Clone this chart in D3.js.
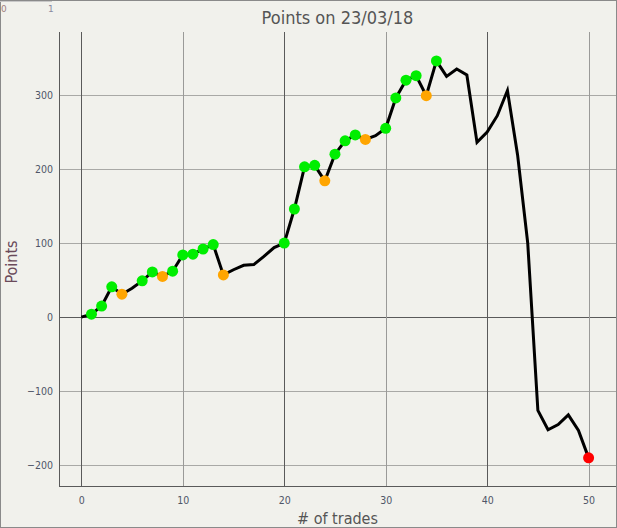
<!DOCTYPE html>
<html>
<head>
<meta charset="utf-8">
<script src="https://cdn.jsdelivr.net/npm/d3@7"></script>
<style>
  body { margin: 0; background: #fff; }
  .axis text { font-family: "DejaVu Sans Condensed", "DejaVu Sans", sans-serif; font-size: 10.5px; fill: #4f5668; }
  .axis path, .axis line { stroke: none; }
</style>
</head>
<body>
<div id="chart"></div>
<script>
// Trade number on x, cumulative points on y
const trades = d3.range(0, 51);
const points = [
  0, 4, 15, 41, 31, 39, 49, 61, 55, 62,
  84, 85, 92, 98, 57, 64, 70, 71, 82, 94,
  100, 146, 203, 205, 184, 220, 238, 246, 240, 245,
  255, 296, 320, 326, 299, 346, 325, 335, 327, 236,
  250, 272, 306, 219, 100, -126, -152, -145, -132, -153,
  -190
];
// marker kind per trade: g = win, o = loss, r = last, '' = no marker
const markers = [
  '', 'g', 'g', 'g', 'o', '', 'g', 'g', 'o', 'g',
  'g', 'g', 'g', 'g', 'o', '', '', '', '', '',
  'g', 'g', 'g', 'g', 'o', 'g', 'g', 'g', 'o', '',
  'g', 'g', 'g', 'g', 'o', 'g', '', '', '', '',
  '', '', '', '', '', '', '', '', '', '',
  'r'
];
const xTicks = [0, 10, 20, 30, 40, 50];
const yTicks = [-200, -100, 0, 100, 200, 300];
const markerColor = {g: '#00ee00', o: '#ffa500', r: '#ff0000'};

const width = 617, height = 528;
const margin = {top: 32, right: 1, bottom: 42, left: 59};

const svg = d3.select('#chart').append('svg')
    .attr('width', width)
    .attr('height', height);

// background and frame
svg.append('rect')
    .attr('x', 0.5).attr('y', 0.5)
    .attr('width', width - 1).attr('height', height - 1)
    .attr('fill', '#f1f1ec')
    .attr('stroke', '#8a8a8a');

// leftover slider label in the top left corner
svg.append('line')
    .attr('x1', 0).attr('x2', 52).attr('y1', 1.5).attr('y2', 1.5)
    .attr('stroke', '#c8c8c8');
svg.append('text').attr('x', 1).attr('y', 12).text('0')
    .attr('font-family', 'DejaVu Sans').attr('font-size', 9).attr('fill', '#a08080');
svg.append('text').attr('x', 48).attr('y', 12).text('1')
    .attr('font-family', 'DejaVu Sans').attr('font-size', 9).attr('fill', '#8a8aa0');

const innerW = width - margin.left - margin.right;
const innerH = height - margin.top - margin.bottom;

const xScale = d3.scaleLinear()
    .domain([-2.2, 52.7])
    .range([0, innerW]);

const yScale = d3.scaleLinear()
    .domain([-228, 385])
    .range([innerH, 0]);

const chart = svg.append('g')
    .attr('transform', `translate(${margin.left},${margin.top})`);

// gridlines: zero / every 20 trades darker
chart.selectAll('.hgrid')
    .data(yTicks)
    .join('line')
    .attr('class', 'hgrid')
    .attr('x1', 0).attr('x2', innerW)
    .attr('y1', d => Math.round(yScale(d)) + 0.5)
    .attr('y2', d => Math.round(yScale(d)) + 0.5)
    .attr('stroke', d => d === 0 ? '#5a5a5a' : '#a9a9a6');

chart.selectAll('.vgrid')
    .data(xTicks)
    .join('line')
    .attr('class', 'vgrid')
    .attr('y1', 0).attr('y2', innerH)
    .attr('x1', d => Math.round(xScale(d)) + 0.5)
    .attr('x2', d => Math.round(xScale(d)) + 0.5)
    .attr('stroke', d => d % 20 === 0 ? '#5a5a5a' : '#9a9a98');

// axes frame lines
chart.append('line')
    .attr('x1', 0.5).attr('x2', 0.5).attr('y1', 0).attr('y2', innerH)
    .attr('stroke', '#5a5a5a');
chart.append('line')
    .attr('x1', 0).attr('x2', innerW).attr('y1', innerH + 0.5).attr('y2', innerH + 0.5)
    .attr('stroke', '#5a5a5a');

const xAxis = d3.axisBottom(xScale).tickValues(xTicks).tickSize(0).tickPadding(11);
const yAxis = d3.axisLeft(yScale).tickValues(yTicks).tickSize(0).tickPadding(6);

chart.append('g')
    .attr('class', 'axis x-axis')
    .attr('transform', `translate(0,${innerH})`)
    .call(xAxis);

chart.append('g')
    .attr('class', 'axis y-axis')
    .call(yAxis);

// the points line
const line = d3.line()
    .x((d, i) => xScale(trades[i]))
    .y(d => yScale(d));

chart.append('path')
    .datum(points)
    .attr('fill', 'none')
    .attr('stroke', '#000')
    .attr('stroke-width', 3)
    .attr('stroke-linejoin', 'miter')
    .attr('d', line);

chart.selectAll('.dot')
    .data(trades.filter(i => markers[i] !== ''))
    .join('circle')
    .attr('class', 'dot')
    .attr('cx', i => xScale(trades[i]))
    .attr('cy', i => yScale(points[i]))
    .attr('r', 5.5)
    .attr('fill', i => markerColor[markers[i]]);

// titles
svg.append('text')
    .attr('x', margin.left + innerW / 2)
    .attr('y', 24)
    .attr('text-anchor', 'middle')
    .attr('font-family', '"DejaVu Sans Condensed", "DejaVu Sans", sans-serif')
    .attr('font-size', 18)
    .attr('fill', '#555')
    .text('Points on 23/03/18');

svg.append('text')
    .attr('x', margin.left + innerW / 2)
    .attr('y', 524)
    .attr('text-anchor', 'middle')
    .attr('font-family', '"DejaVu Sans Condensed", "DejaVu Sans", sans-serif')
    .attr('font-size', 16)
    .attr('fill', '#555')
    .text('# of trades');

svg.append('text')
    .attr('transform', 'translate(17,262) rotate(-90)')
    .attr('text-anchor', 'middle')
    .attr('font-family', '"DejaVu Sans Condensed", "DejaVu Sans", sans-serif')
    .attr('font-size', 16)
    .attr('fill', '#6a4a5a')
    .text('Points');
</script>
</body>
</html>
